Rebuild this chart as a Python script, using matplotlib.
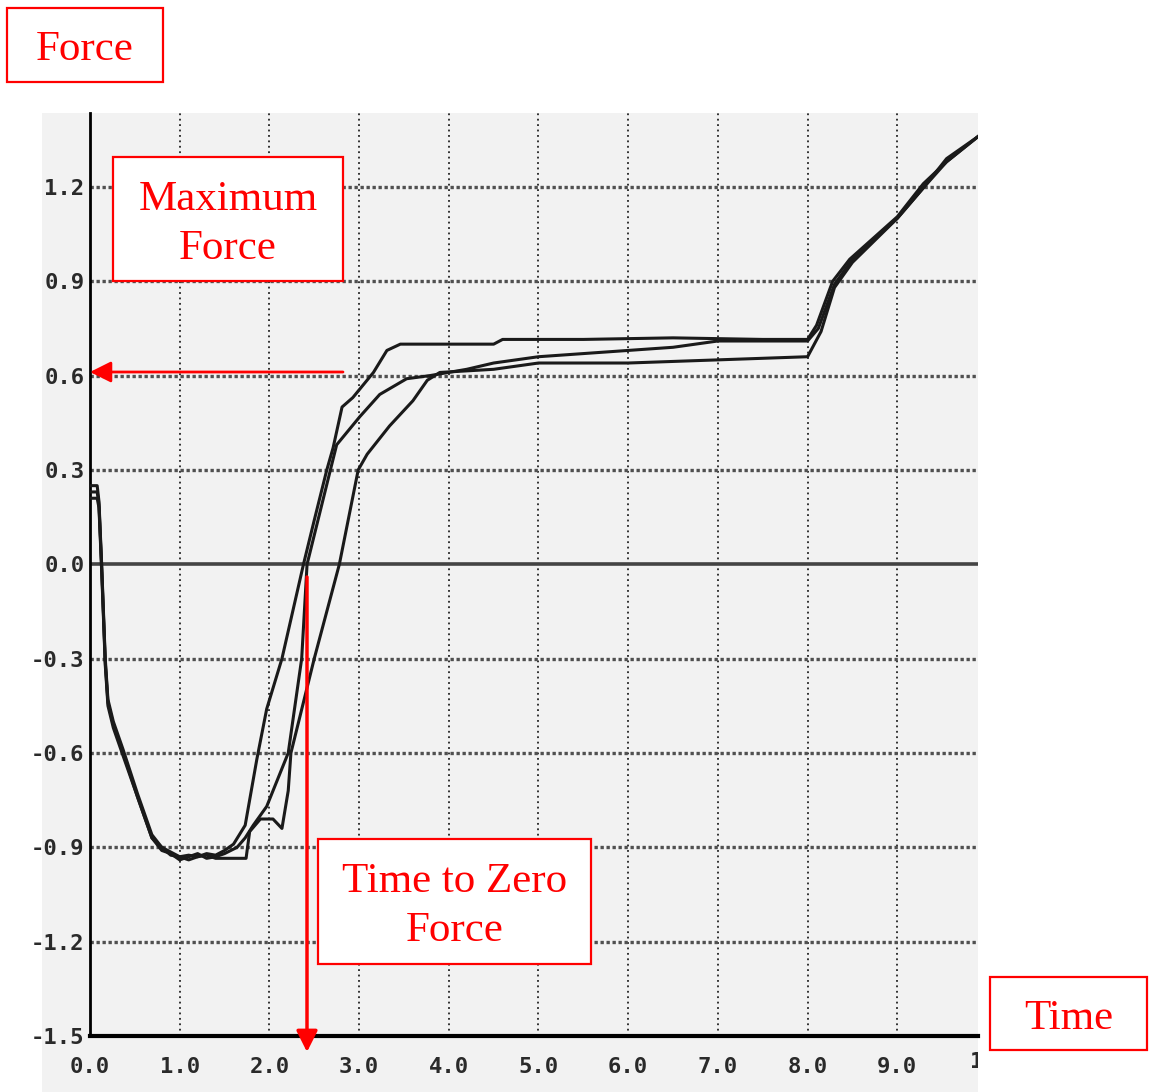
import matplotlib
matplotlib.use('Agg')
import matplotlib.pyplot as plt
from matplotlib.patches import Rectangle
from matplotlib.transforms import Bbox

# force vs time, three test runs
t_a = [0, 0.08, 0.1, 0.13, 0.17, 0.2, 0.26, 0.37, 0.53, 0.69, 0.8, 0.9, 1.0, 1.1, 1.2, 1.3,
       1.4, 1.5, 1.6, 1.73, 1.86, 1.97, 2.14, 2.26, 2.38, 2.5, 2.64, 2.71, 2.81, 2.93, 3.16,
       3.31, 3.46, 4.0, 4.5, 4.6, 5.5, 6.5, 7.5, 8.0, 8.1, 8.28, 8.47, 9.0, 9.29, 9.55, 9.9]
f_a = [0.25, 0.25, 0.2, 0.0, -0.3, -0.43, -0.5, -0.59, -0.73, -0.86, -0.9, -0.915, -0.93,
       -0.925, -0.93, -0.92, -0.925, -0.91, -0.89, -0.83, -0.62, -0.46, -0.3, -0.15, 0.0,
       0.14, 0.3, 0.37, 0.5, 0.53, 0.61, 0.68, 0.70, 0.70, 0.70, 0.715, 0.715, 0.72, 0.715,
       0.715, 0.76, 0.9, 0.97, 1.105, 1.21, 1.28, 1.36]

t_b = [0, 0.08, 0.1, 0.13, 0.17, 0.2, 0.26, 0.37, 0.53, 0.69, 0.8, 0.9, 1.0, 1.1, 1.2, 1.3,
       1.4, 1.5, 1.64, 1.73, 1.82, 1.97, 2.21, 2.36, 2.42, 2.55, 2.68, 2.75, 3.01, 3.23, 3.53,
       3.79, 4.2, 4.5, 5.0, 5.5, 6.5, 7.0, 8.0, 8.12, 8.3, 8.5, 9.0, 9.3, 9.55, 9.9]
f_b = [0.23, 0.23, 0.19, -0.01, -0.31, -0.44, -0.51, -0.6, -0.74, -0.87, -0.91, -0.92,
       -0.94, -0.93, -0.92, -0.935, -0.93, -0.92, -0.9, -0.87, -0.83, -0.77, -0.6, -0.3,
       0.0, 0.15, 0.3, 0.38, 0.47, 0.54, 0.59, 0.60, 0.62, 0.64, 0.66, 0.67, 0.69, 0.71,
       0.71, 0.75, 0.89, 0.97, 1.1, 1.2, 1.28, 1.36]

t_c = [0, 0.08, 0.1, 0.13, 0.17, 0.2, 0.26, 0.37, 0.53, 0.69, 0.8, 0.9, 1.0, 1.1, 1.2, 1.3,
       1.4, 1.5, 1.6, 1.74, 1.78, 1.9, 2.04, 2.14, 2.21, 2.24, 2.5, 2.78, 2.99, 3.09, 3.34,
       3.6, 3.76, 3.9, 4.5, 5.0, 6.0, 7.0, 8.0, 8.15, 8.3, 8.5, 9.0, 9.3, 9.55, 9.9]
f_c = [0.21, 0.21, 0.18, -0.02, -0.32, -0.45, -0.52, -0.61, -0.74, -0.87, -0.9, -0.925,
       -0.93, -0.94, -0.93, -0.925, -0.935, -0.935, -0.935, -0.935, -0.85, -0.81, -0.81,
       -0.84, -0.72, -0.6, -0.3, 0.0, 0.3, 0.35, 0.44, 0.52, 0.585, 0.61, 0.62, 0.64, 0.64,
       0.65, 0.66, 0.74, 0.88, 0.96, 1.1, 1.2, 1.29, 1.36]

x_ticks = [0, 1, 2, 3, 4, 5, 6, 7, 8, 9]
x_labels = ['0.0', '1.0', '2.0', '3.0', '4.0', '5.0', '6.0', '7.0', '8.0', '9.0']
y_ticks = [-1.5, -1.2, -0.9, -0.6, -0.3, 0.0, 0.3, 0.6, 0.9, 1.2]
y_labels = ['-1.5', '-1.2', '-0.9', '-0.6', '-0.3', '0.0', '0.3', '0.6', '0.9', '1.2']

W, H = 1151, 1092
RED = '#ff0000'
SCAN = '#f2f2f2'
INK = '#2a2a2a'

fig = plt.figure(figsize=(W / 100, H / 100), dpi=100)
fig.patch.set_facecolor('white')

# grey scanned area behind the plot
fig.patches.append(Rectangle((42, 0), 978 - 42, H - 113, transform=None,
                             facecolor=SCAN, edgecolor='none', zorder=-10))

ax = fig.add_axes([90 / W, 1 - 1036 / H, (978 - 90) / W, (1036 - 113) / H])
ax.set_facecolor(SCAN)
ax.set_xlim(0, 9.9)
ax.set_ylim(-1.5, 1.435)

for x in x_ticks[1:]:
    ax.axvline(x, color='#222222', lw=1.3, ls=(0, (1, 2)), zorder=1)
for y in y_ticks[1:]:
    if y != 0.0:
        ax.axhline(y, color='#505050', lw=2.4, ls=(0, (1, 0.8)), zorder=1)
ax.axhline(0.0, color='#444444', lw=2.6, zorder=1)

for tt, ff in [(t_a, f_a), (t_b, f_b), (t_c, f_c)]:
    ax.plot(tt, ff, color='#1a1a1a', lw=2.2, zorder=3)

ax.set_xticks(x_ticks)
ax.set_xticklabels(x_labels)
ax.set_yticks(y_ticks)
ax.set_yticklabels(y_labels)
ax.tick_params(axis='both', length=0, labelsize=16, colors=INK)
ax.tick_params(axis='x', pad=15)
ax.tick_params(axis='y', pad=4)
for lbl in ax.get_xticklabels() + ax.get_yticklabels():
    lbl.set_family('DejaVu Sans Mono')
    lbl.set_weight('bold')
for s in ['top', 'right']:
    ax.spines[s].set_visible(False)
ax.spines['left'].set_linewidth(2)
ax.spines['bottom'].set_linewidth(3)

# cut-off "10" at the scan edge
ten = fig.text(983 / W, 1 - 1062 / H, '10', ha='center', va='center', fontsize=16,
               family='DejaVu Sans Mono', weight='bold', color=INK)
ten.set_clip_box(Bbox([[0, 0], [978, H]]))
ten.set_clip_on(True)


def box(x0, y0, x1, y1, text):
    fig.patches.append(Rectangle((x0, H - y1), x1 - x0, y1 - y0, transform=None,
                                 facecolor='white', edgecolor=RED, lw=1.6, zorder=5))
    fig.text((x0 + x1) / 2 / W, 1 - ((y0 + y1) / 2 + 5) / H, text, ha='center', va='center',
             fontsize=31, family='Liberation Serif', color=RED, linespacing=1.36, zorder=6)


box(7, 8, 163, 82, 'Force')
box(113, 157, 343, 281, 'Maximum\nForce')
box(318, 839, 591, 964, 'Time to Zero\nForce')
box(990, 977, 1147, 1050, 'Time')

fig.add_artist(plt.Annotation('', xy=(90, H - 372), xytext=(343, H - 372),
                              xycoords='figure pixels', textcoords='figure pixels',
                              arrowprops=dict(arrowstyle='-|>', color=RED, lw=2,
                                              mutation_scale=32, shrinkA=0, shrinkB=0)))
fig.add_artist(plt.Annotation('', xy=(307, H - 1052), xytext=(307, H - 577),
                              xycoords='figure pixels', textcoords='figure pixels',
                              arrowprops=dict(arrowstyle='-|>', color=RED, lw=2.5,
                                              mutation_scale=32, shrinkA=0, shrinkB=0)))

fig.savefig('out.png', dpi=100)
